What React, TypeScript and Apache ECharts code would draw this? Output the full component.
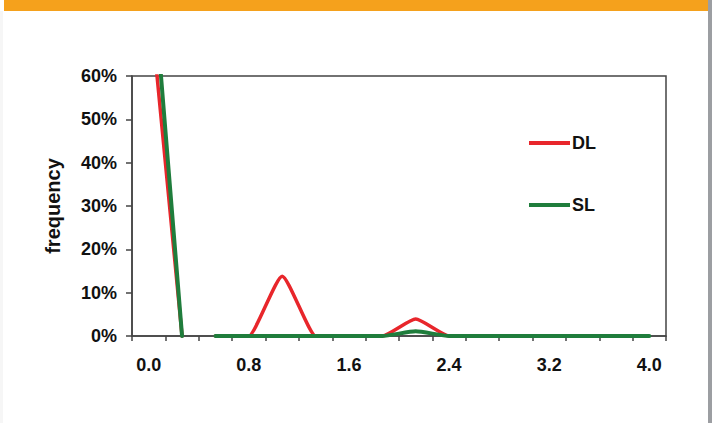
import React, { useEffect, useRef } from "react";
import * as echarts from "echarts";

const categories = ["0.0", "0.3", "0.5", "0.8", "1.1", "1.3", "1.6", "1.9", "2.1", "2.4", "2.7", "2.9", "3.2", "3.5", "3.7", "4.0"];
// first segment (cat 0 -> cat 1), values above 60% are clipped by the axis
const dlHead = [80, 0, null, null, null, null, null, null, null, null, null, null, null, null, null, null];
const slHead = [95, 0, null, null, null, null, null, null, null, null, null, null, null, null, null, null];
// second segment
const dlTail = [null, null, 0, 0, 13.8, 0, 0, 0, 3.9, 0, 0, null, null, null, null, null];
const slTail = [null, null, 0, 0, 0, 0, 0, 0, 1.1, 0, 0, 0, 0, 0, 0, 0];
const yTicks = { min: 0, max: 60, interval: 10 };

const RED = "#e8262b";
const GREEN = "#1f7d3c";
const FONT = "'Liberation Sans', Arial, sans-serif";

export default function App() {
  const ref = useRef<HTMLDivElement>(null);
  useEffect(() => {
    const chart = echarts.init(ref.current!, null, { renderer: "svg" });
    const line = (name: string, data: (number | null)[], color: string, width: number, z: number) => ({
      name,
      type: "line",
      data,
      symbol: "none",
      showSymbol: false,
      connectNulls: false,
      smooth: 0.18,
      smoothMonotone: "x",
      clip: true,
      z,
      lineStyle: { color, width, cap: "round", join: "round" },
      itemStyle: { color },
    });
    chart.setOption({
      animation: false,
      backgroundColor: "#ffffff",
      textStyle: { fontFamily: FONT },
      graphic: [
        { type: "rect", shape: { x: 4, y: 0, width: 704, height: 11 }, style: { fill: "#f5a11c" }, z: 10 },
        { type: "rect", shape: { x: 708, y: 0, width: 4, height: 423 }, style: { fill: "#9c9ea2" }, z: 10 },
        { type: "rect", shape: { x: 0, y: 11, width: 3, height: 412 }, style: { fill: "#f6f6f6" }, z: 10 },
      ],
      grid: {
        left: 132,
        right: 46,
        top: 76,
        bottom: 87,
        show: true,
        borderColor: "#444",
        borderWidth: 1.5,
        containLabel: false,
      },
      legend: {
        data: ["DL", "SL"],
        orient: "vertical",
        left: 529,
        top: 134,
        padding: 0,
        itemWidth: 41,
        itemHeight: 4,
        itemGap: 44,
        textStyle: { fontFamily: FONT, fontWeight: "bold", fontSize: 18, color: "#111", padding: [0, 0, 0, -3] },
        icon: "rect",
      },
      xAxis: {
        type: "category",
        data: categories,
        boundaryGap: true,
        axisLine: { show: true, lineStyle: { color: "#444", width: 1.5 } },
        axisTick: { show: true, inside: false, length: 5, interval: 0, lineStyle: { color: "#444", width: 1.5 } },
        axisLabel: {
          interval: 2,
          margin: 20,
          color: "#111",
          fontWeight: "bold",
          fontSize: 18,
          fontFamily: FONT,
        },
        splitLine: { show: false },
      },
      yAxis: {
        type: "value",
        min: yTicks.min,
        max: yTicks.max,
        interval: yTicks.interval,
        name: "frequency",
        nameLocation: "middle",
        nameGap: 69,
        nameRotate: 90,
        nameTextStyle: { fontFamily: FONT, fontWeight: "bold", fontSize: 20, color: "#111" },
        axisLine: { show: true, lineStyle: { color: "#444", width: 1.5 } },
        axisTick: { show: true, inside: false, length: 6, lineStyle: { color: "#444", width: 1.5 } },
        axisLabel: {
          formatter: "{value}%",
          margin: 15,
          color: "#111",
          fontWeight: "bold",
          fontSize: 18,
          fontFamily: FONT,
        },
        splitLine: { show: false },
      },
      series: [
        line("DL", dlHead, RED, 3.5, 2),
        line("DL", dlTail, RED, 3.5, 2),
        line("SL", slHead, GREEN, 4, 3),
        line("SL", slTail, GREEN, 4, 3),
      ],
    });
    return () => chart.dispose();
  }, []);
  return (
    <div
      ref={ref}
      style={{ position: "fixed", left: 0, top: 0, width: 712, height: 423, background: "#fff" }}
    />
  );
}
